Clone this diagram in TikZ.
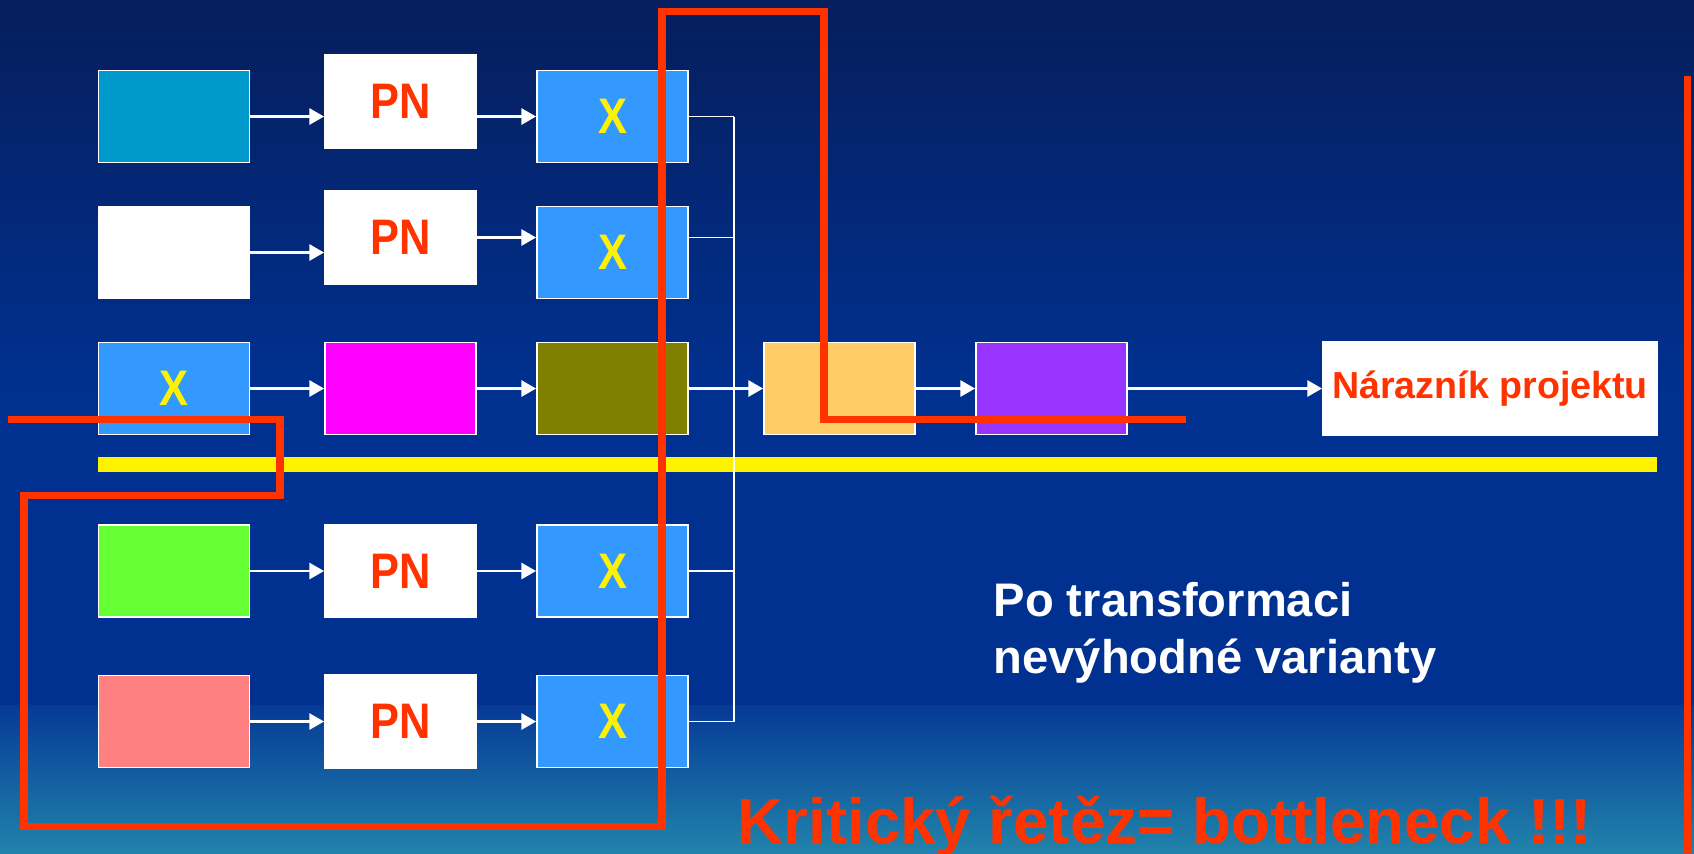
\documentclass[tikz,border=0pt]{standalone}
\usepackage{fontspec}
\setmainfont{Liberation Sans}
\newfontfamily\narrowfont[FakeStretch=0.87]{Liberation Sans}
\usetikzlibrary{arrows.meta, positioning}
\definecolor{bgtop}{HTML}{061E5C}
\definecolor{bgmid}{HTML}{003191}
\definecolor{bglow}{HTML}{063A96}
\definecolor{bgbot}{HTML}{2183AB}
\definecolor{chainred}{HTML}{FF3300}
\definecolor{xblue}{HTML}{3399FF}
\definecolor{tealbox}{HTML}{0099CC}
\definecolor{pinkybox}{HTML}{FF00FF}
\definecolor{olivebox}{HTML}{808000}
\definecolor{peachbox}{HTML}{FFCC66}
\definecolor{violetbox}{HTML}{9933FF}
\definecolor{limebox}{HTML}{66FF33}
\definecolor{pinkbox}{HTML}{FF8080}

\begin{document}
\begin{tikzpicture}[x=0.01cm, y=-0.01cm,
    box/.style={draw=white, line width=0.5pt, minimum width=1.51cm, minimum height=0.92cm, inner sep=0pt},
    pnbox/.style={box, fill=white, text=chainred, minimum height=0.93cm, font=\narrowfont\bfseries\fontsize{14.2}{17}\selectfont},
    xbox/.style={box, fill=xblue, text=yellow, font=\narrowfont\bfseries\fontsize{14.2}{17}\selectfont},
    link/.style={white, line width=0.7pt, -{Triangle[length=4.2pt, width=4.6pt]}},
    bus/.style={white, line width=0.5pt},
    chain/.style={chainred, line width=2pt, line join=miter}]
    % Background
    \shade[top color=bgtop, bottom color=bgmid] (0,0) rectangle (1694,400);
    \fill[bgmid] (0,400) rectangle (1694,705);
    \shade[top color=bglow, bottom color=bgbot] (0,705) rectangle (1694,853);
    \useasboundingbox (0,0) rectangle (1694,853);

    % Row 1
    \node[box, fill=tealbox] (ta) at (174,116.5) {};
    \node[pnbox] (pa) at (400.5,101.5) {PN};
    \node[xbox] (xa) at (612.5,116.5) {X};

    % Row 2
    \node[box, fill=white] (wb) at (174,252.5) {};
    \node[pnbox] (pb) at (400.5,237.5) {PN};
    \node[xbox] (xb) at (612.5,252.5) {X};

    % Row 3 (main chain)
    \node[xbox] (xc) at (174,388.5) {X};
    \node[box, fill=pinkybox] (mc) at (400.5,388.5) {};
    \node[box, fill=olivebox] (oc) at (612.5,388.5) {};
    \node[box, fill=peachbox] (merge) at (839.5,388.5) {};
    \node[box, fill=violetbox] (last) at (1051.5,388.5) {};
    \node[box, fill=white, text=chainred, minimum width=3.34cm, minimum height=0.93cm,
          font=\bfseries\fontsize{10.7}{13}\selectfont] (buffer) at (1490,388.5) {Nárazník projektu};

    % Row 4
    \node[box, fill=limebox] (gd) at (174,571) {};
    \node[pnbox] (pd) at (400.5,571) {PN};
    \node[xbox] (xd) at (612.5,571) {X};

    % Row 5
    \node[box, fill=pinkbox] (re) at (174,721.5) {};
    \node[pnbox] (pe) at (400.5,721.5) {PN};
    \node[xbox] (xe) at (612.5,721.5) {X};

    % Yellow divider
    \fill[yellow] (98,457) rectangle (1657,472);

    % Arrows along the rows
    \draw[link] (ta.east) -- (ta.east -| pa.west);
    \draw[link] (pa.east |- xa) -- (xa.west);
    \draw[link] (wb.east) -- (wb.east -| pb.west);
    \draw[link] (pb.east) -- (pb.east -| xb.west);
    \draw[link] (xc) -- (mc);
    \draw[link] (mc) -- (oc);
    \draw[link] (oc) -- (merge);
    \draw[link] (merge) -- (last);
    \draw[link] (last) -- (buffer);
    \draw[link] (gd) -- (pd);
    \draw[link] (pd) -- (xd);
    \draw[link] (re) -- (pe);
    \draw[link] (pe) -- (xe);

    % Feeding bus
    \coordinate (bustop) at (734,117);
    \coordinate (busbot) at (734,721.5);
    \draw[bus] (bustop) -- (busbot);
    \draw[bus] (xa.east) -- (xa.east -| bustop);
    \draw[bus] (xb.east |- pb) -- (pb -| bustop);
    \draw[bus] (xd.east) -- (xd.east -| bustop);
    \draw[bus] (xe.east) -- (xe.east -| bustop);

    % Critical chain
    \draw[chain] (8,419) -- (280,419) -- (280,495) -- (24,495) -- (24,826) -- (662,826)
        -- (662,11) -- (824,11) -- (824,419) -- (1186,419);
    \draw[chainred, line width=2pt] (1687,76) -- (1687,853);

    % Texts
    \node[anchor=north west, align=left, inner sep=0pt, text=white,
          font=\bfseries\fontsize{13.4}{16.2}\selectfont] (note) at (993,582)
          {Po transformaci\\nevýhodné varianty};
    \node[anchor=base west, inner sep=0pt, text=chainred,
          font=\bfseries\fontsize{18.1}{22}\selectfont] (verdict) at (737,843)
          {Kritický řetěz= bottleneck !!!};
\end{tikzpicture}
\end{document}
